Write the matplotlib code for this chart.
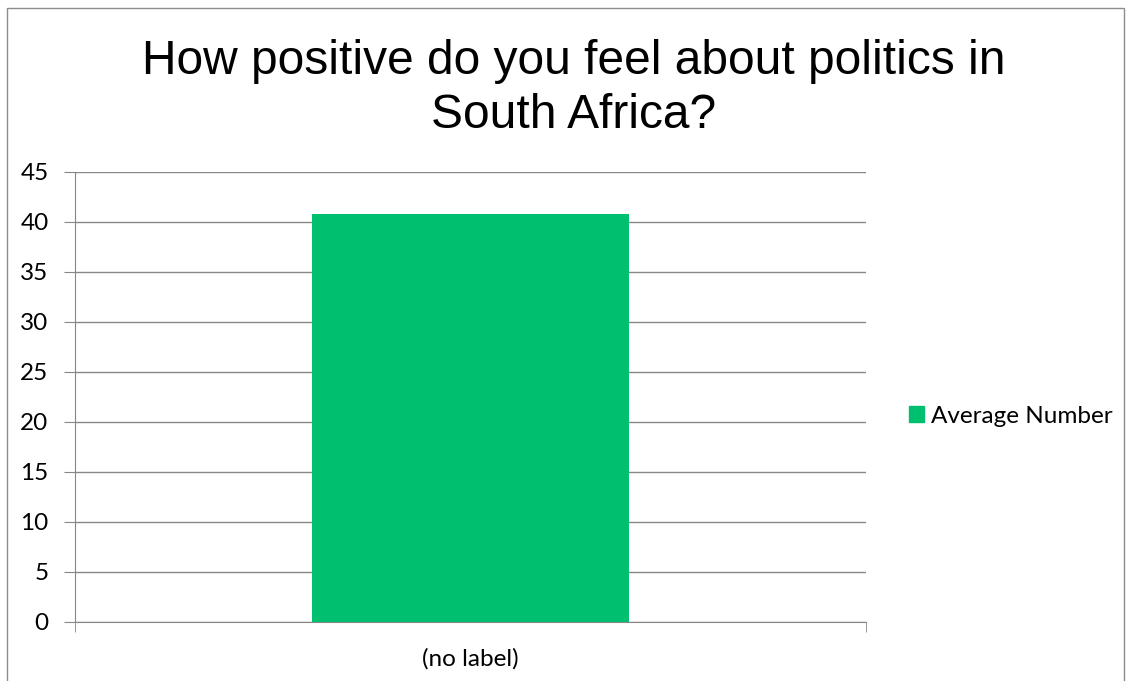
import matplotlib
matplotlib.use("Agg")
import matplotlib.pyplot as plt
from matplotlib.patches import Rectangle, Patch

categories = ["(no label)"]
values = [40.8]
series_name = "Average Number"
title = "How positive do you feel about politics in\nSouth Africa?"

bar_color = "#00BF6F"
grid_color = "#878787"
label_font = ["Lato", "DejaVu Sans"]

fig = plt.figure(figsize=(11.29, 6.81), dpi=100)
ax = fig.add_axes([75 / 1129, 59 / 681, 791 / 1129, 450 / 681])

x = list(range(len(categories)))
ax.bar(x, values, width=0.4, color=bar_color, zorder=3)

ax.set_xlim(-0.5, len(categories) - 0.5)
ax.set_ylim(0, 45)
ax.set_yticks(range(0, 46, 5))
ax.tick_params(axis="y", labelsize=17.5, length=8, color=grid_color, pad=11)
ax.set_xticks(x)
ax.set_xticklabels(categories)
ax.tick_params(axis="x", labelsize=17.5, length=0, pad=19)
for lbl in ax.get_xticklabels() + ax.get_yticklabels():
    lbl.set_family(label_font)

# category boundary ticks on the x axis
ax.set_xticks([i - 0.5 for i in range(len(categories) + 1)], minor=True)
ax.tick_params(axis="x", which="minor", length=7, color=grid_color)

ax.yaxis.grid(True, color=grid_color, lw=1, zorder=0)
for s in ["top", "right"]:
    ax.spines[s].set_visible(False)
ax.spines["left"].set_color(grid_color)
ax.spines["bottom"].set_color(grid_color)

fig.text(574 / 1129, 0.942, title, ha="center", va="top", fontsize=34.5,
         family="Liberation Sans", linespacing=1.25)

fig.legend(handles=[Patch(color=bar_color, label=series_name)],
           loc="center left", bbox_to_anchor=(0.786, 0.389), frameon=False,
           prop={"family": label_font, "size": 17.5},
           handlelength=0.6, handleheight=0.6, handletextpad=0.3)

fig.patches.append(Rectangle((7 / 1129, -0.01), 1117 / 1129, 1 - 8 / 681 + 0.01,
                             transform=fig.transFigure, fill=False,
                             edgecolor="#8c8c8c", lw=1))

fig.savefig("out.png", dpi=100)
